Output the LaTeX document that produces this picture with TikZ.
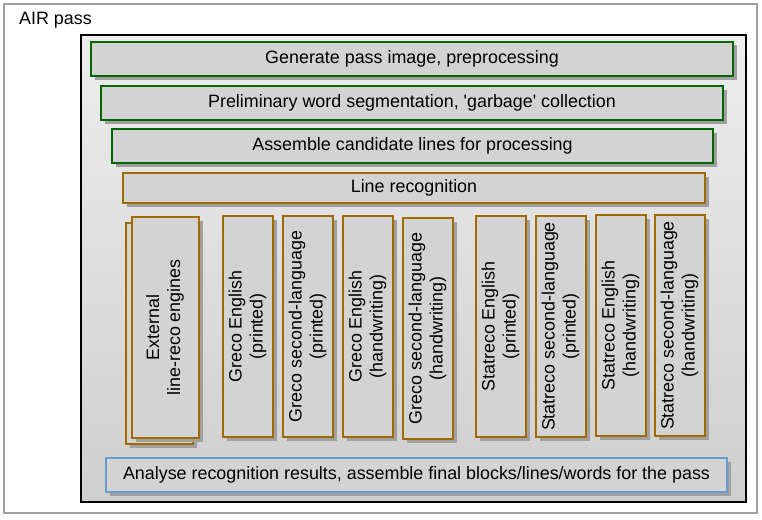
\documentclass[tikz,border=0pt]{standalone}
\usepackage{fontspec}
\newfontfamily\arialfont{Liberation Sans}
\usetikzlibrary{shadows}
\definecolor{boxfill}{HTML}{D3D3D3}
\definecolor{shadowgray}{HTML}{A0A0A0}
\definecolor{framegray}{HTML}{A0A0A0}
\definecolor{greenline}{HTML}{006600}
\definecolor{brownline}{HTML}{A06A00}
\definecolor{blueline}{HTML}{6A9BD0}
\newcommand{\vlab}[1]{\rotatebox{90}{\begin{tabular}{@{}c@{}}#1\end{tabular}}}
\tikzset{
  txt/.style={font=\arialfont\fontsize{17.9}{21}\selectfont},
  bar/.style={txt, rectangle, draw, line width=1.8pt, fill=boxfill, inner sep=0pt,
    drop shadow={shadow xshift=3.5pt, shadow yshift=-3.5pt, fill=shadowgray, opacity=1}},
  gbar/.style={bar, draw=greenline},
  obar/.style={bar, draw=brownline},
  bbar/.style={bar, draw=blueline},
  vbar/.style={obar, minimum width=50pt, minimum height=221pt},
}
\begin{document}
\begin{tikzpicture}[x=1pt,y=-1pt]
\useasboundingbox (0,0) rectangle (762,519);
\node[draw=framegray, line width=2pt, fill=white, minimum width=753pt, minimum height=509pt, inner sep=0pt] (outer) at (380.5,258.5) {};
\node[txt, anchor=base west, inner sep=0pt] (title) at (19,24.5) {AIR pass};
\node[draw=black, line width=2pt, top color=black!7, bottom color=black!19, minimum width=665pt, minimum height=467pt, inner sep=0pt] (inner) at (413.5,268.5) {};

\node[gbar, minimum width=642pt, minimum height=34pt] (g1) at (412,59) {Generate pass image, preprocessing};
\node[gbar, minimum width=622pt, minimum height=34pt] (g2) at (412,103) {Preliminary word segmentation, 'garbage' collection};
\node[gbar, minimum width=601pt, minimum height=34pt] (g3) at (412.5,146) {Assemble candidate lines for processing};
\node[obar, minimum width=582pt, minimum height=30pt] (lr) at (414,188) {Line recognition};

\node[obar, minimum width=67pt, minimum height=221pt] (extb) at (159.5,333.5) {};
\node[obar, minimum width=67pt, minimum height=221pt] (ext) at (165.5,327.5) {\vlab{External\\line-reco engines}};

\node[vbar] (ge1) at (248,326.5) {\vlab{Greco English\\(printed)}};
\node[vbar] (ge2) at (308,326.5) {\vlab{Greco second-language\\(printed)}};
\node[vbar] (ge3) at (368,326.5) {\vlab{Greco English\\(handwriting)}};
\node[vbar] (ge4) at (428,328.5) {\vlab{Greco second-language\\(handwriting)}};

\node[vbar] (st1) at (501,326.5) {\vlab{Statreco English\\(printed)}};
\node[vbar] (st2) at (561,326.5) {\vlab{Statreco second-language\\(printed)}};
\node[vbar] (st3) at (621,325.5) {\vlab{Statreco English\\(handwriting)}};
\node[vbar] (st4) at (680,325.5) {\vlab{Statreco second-language\\(handwriting)}};

\node[bbar, minimum width=621pt, minimum height=34pt] (fin) at (416.5,475) {Analyse recognition results, assemble final blocks/lines/words for the pass};
\end{tikzpicture}
\end{document}
